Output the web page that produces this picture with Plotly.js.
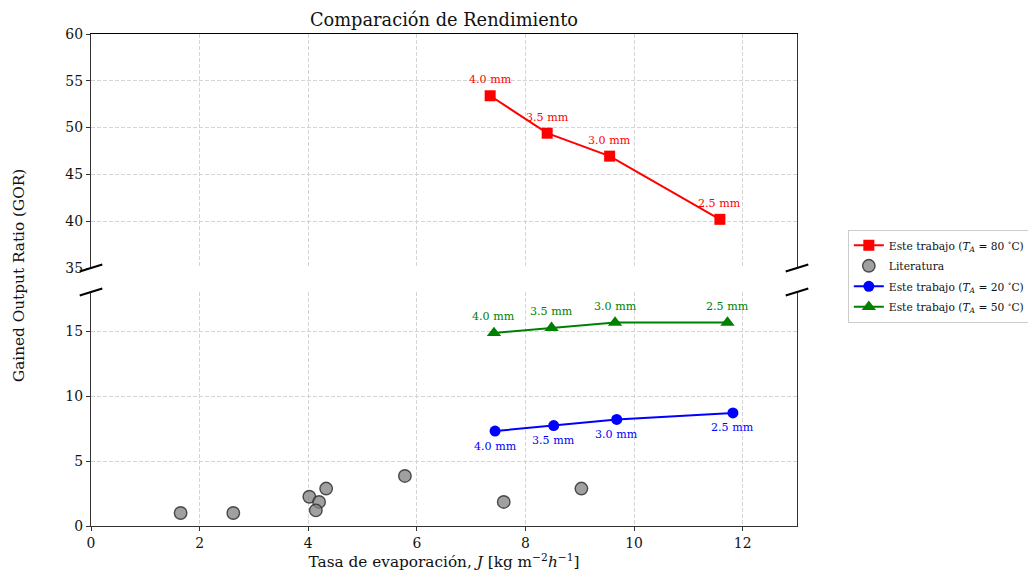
<!DOCTYPE html>
<html>
<head>
<meta charset="utf-8">
<script src="https://cdn.plot.ly/plotly-3.0.1.min.js"></script>
<style>html,body{margin:0;padding:0;background:#fff;}#chart{width:1028px;height:574px;}</style>
</head>
<body>
<div id="chart"></div>
<script>
// ---- data ----
const gapLabels = ["4.0 mm", "3.5 mm", "3.0 mm", "2.5 mm"];

const rojoX = [7.35, 8.40, 9.55, 11.58];   // T_A = 80 °C
const rojoY = [53.4, 49.4, 46.95, 40.2];

const verdeX = [7.42, 8.48, 9.65, 11.72];  // T_A = 50 °C
const verdeY = [14.85, 15.25, 15.65, 15.65];

const azulX = [7.44, 8.52, 9.68, 11.82];   // T_A = 20 °C
const azulY = [7.3, 7.73, 8.2, 8.7];

const litX = [1.65, 2.62, 4.02, 4.20, 4.14, 4.33, 5.78, 7.60, 9.03];
const litY = [1.0, 1.0, 2.25, 1.85, 1.2, 2.88, 3.85, 1.85, 2.88];

const xTicks = [0, 2, 4, 6, 8, 10, 12];
const yTopTicks = [35, 40, 45, 50, 55, 60];
const yBotTicks = [0, 5, 10, 15];

// ---- style ----
const FONT = "DejaVu Serif, serif";
const RED = "#ff0000", BLUE = "#0000ff", GREEN = "#008000";

const traces = [
  {x: rojoX, y: rojoY, xaxis: "x2", yaxis: "y2", mode: "lines+markers", legendgroup: "g1",
   name: "Este trabajo (<i>T</i><sub><i>A</i></sub> = 80 <sup>∘</sup>C)",
   line: {color: RED, width: 2}, marker: {symbol: "square", size: 11, color: RED}},
  {x: litX, y: litY, xaxis: "x", yaxis: "y", mode: "markers", name: "Literatura", legendgroup: "g2",
   marker: {symbol: "circle", size: 12.5, color: "rgba(128,128,128,0.75)",
            line: {color: "rgba(40,40,40,0.8)", width: 1.4}}},
  {x: azulX, y: azulY, xaxis: "x", yaxis: "y", mode: "lines+markers", legendgroup: "g3",
   name: "Este trabajo (<i>T</i><sub><i>A</i></sub> = 20 <sup>∘</sup>C)",
   line: {color: BLUE, width: 2}, marker: {symbol: "circle", size: 11, color: BLUE}},
  {x: verdeX, y: verdeY, xaxis: "x", yaxis: "y", mode: "lines+markers", legendgroup: "g4",
   name: "Este trabajo (<i>T</i><sub><i>A</i></sub> = 50 <sup>∘</sup>C)",
   line: {color: GREEN, width: 2}, marker: {symbol: "triangle-up", size: 12.5, color: GREEN}}
];

const annotations = [];
function addLabels(xs, ys, color, yref, shift) {
  xs.forEach((xv, i) => {
    annotations.push({x: xv, y: ys[i], xref: yref === "y2" ? "x2" : "x", yref: yref,
      text: gapLabels[i], showarrow: false, yshift: shift,
      font: {family: FONT, size: 11.1, color: color}});
  });
}
addLabels(rojoX, rojoY, RED, "y2", 16);
addLabels(verdeX, verdeY, GREEN, "y", 16);
addLabels(azulX, azulY, BLUE, "y", -15);

annotations.push({xref: "paper", yref: "paper", x: -0.102, y: 0.51, xanchor: "center", yanchor: "middle",
  textangle: -90, text: "Gained Output Ratio (GOR)", showarrow: false,
  font: {family: FONT, size: 15.3, color: "#111"}});

// break marks
const dx = 0.016, dy = 0.0072, topBot = 0.5244, botTop = 0.4756;
const shapes = [];
[[0, topBot], [1, topBot], [0, botTop], [1, botTop]].forEach(([cx, cy]) => {
  shapes.push({type: "line", xref: "paper", yref: "paper",
    x0: cx - dx, y0: cy - dy, x1: cx + dx, y1: cy + dy,
    line: {color: "#000", width: 2}});
});

const gridStyle = {showgrid: true, gridcolor: "#cfcfcf", griddash: "4px,2px", gridwidth: 0.9, zeroline: false};
const tickFont = {family: FONT, size: 13.9, color: "#111"};

const layout = {
  width: 1028, height: 574,
  margin: {l: 91, r: 231, t: 34, b: 48, pad: 0, autoexpand: false},
  paper_bgcolor: "#fff", plot_bgcolor: "#fff",
  font: {family: FONT, color: "#111"},
  title: {text: "Comparación de Rendimiento", x: 0.4319, xanchor: "center", y: 0.966, yanchor: "middle",
          font: {family: FONT, size: 17.8, color: "#111"}},
  showlegend: true,
  legend: {x: 1.072, y: 0.602, xanchor: "left", yanchor: "top",
           bordercolor: "#cccccc", borderwidth: 1, bgcolor: "#fff",
           font: {family: FONT, size: 10.7, color: "#111"}, tracegroupgap: 1.5},
  xaxis: Object.assign({anchor: "y", range: [0, 13], tickvals: xTicks, ticks: "outside", ticklen: 4,
           tickcolor: "#333", showline: true, linecolor: "#333", linewidth: 1.2, tickfont: tickFont,
           title: {text: "Tasa de evaporación, <i>J</i> [kg m<sup>−2</sup><i>h</i><sup>−1</sup>]",
                   font: {family: FONT, size: 15.3, color: "#111"}, standoff: 4}}, gridStyle),
  xaxis2: Object.assign({anchor: "y2", matches: "x", range: [0, 13], tickvals: xTicks, side: "top",
           ticks: "", showticklabels: false, showline: true, linecolor: "#000", linewidth: 1.2}, gridStyle),
  yaxis: Object.assign({domain: [0, botTop], range: [0, 18], tickvals: yBotTicks, ticks: "outside", ticklen: 4,
           tickcolor: "#333", showline: true, mirror: true, linecolor: "#333", linewidth: 1.2,
           tickfont: tickFont}, gridStyle),
  yaxis2: Object.assign({domain: [topBot, 1], range: [35, 60], tickvals: yTopTicks, ticks: "outside", ticklen: 4,
           tickcolor: "#333", showline: true, mirror: true, linecolor: "#333", linewidth: 1.2,
           tickfont: tickFont}, gridStyle),
  annotations: annotations,
  shapes: shapes
};

Plotly.newPlot("chart", traces, layout, {displayModeBar: false, staticPlot: true});
</script>
</body>
</html>
